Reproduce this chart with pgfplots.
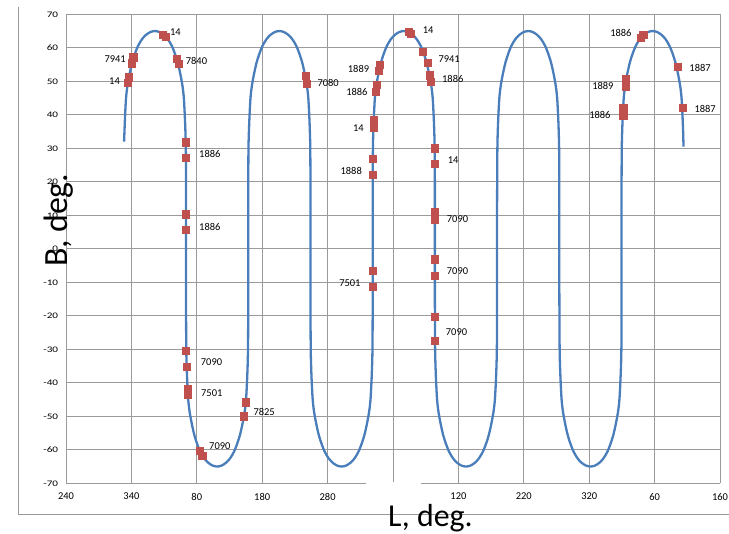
\documentclass[border=0pt]{standalone}
\usepackage{pgfplots}
\pgfplotsset{compat=1.18}
\usepackage{fontspec}
\setmainfont{Carlito}
\definecolor{curve}{HTML}{4A7EBB}
\definecolor{mk}{HTML}{C0504D}
\definecolor{gridc}{HTML}{9A9A9A}
\newcommand{\sx}[1]{\scalebox{1.32}[1]{#1}}

\begin{document}
\begin{tikzpicture}
\path[use as bounding box] (-66bp,-50.7bp) rectangle (663bp,483.3bp);
% chart frame
\draw[gridc, line width=0.9bp] (-48bp,476.3bp) -- (-48bp,-30.7bp) -- (700bp,-30.7bp);

\begin{axis}[
    at={(0,0)}, anchor=south west,
    scale only axis,
    width=654bp, height=469bp,
    xmin=240, xmax=1240,
    ymin=-70, ymax=70,
    xtick={240,340,...,1240},
    xticklabels={240,340,80,180,280,{},120,220,320,60,160},
    ytick={-70,-60,...,70},
    yticklabels={\sx{-70},\sx{-60},\sx{-50},\sx{-40},\sx{-30},\sx{-20},\sx{-10},\sx{0},\sx{10},\sx{20},\sx{30},\sx{40},\sx{50},\sx{60},\sx{70}},
    xticklabel style={font=\fontsize{10.5}{12}\selectfont, inner sep=0pt, anchor=north, yshift=-9.5bp},
    yticklabel style={font=\fontsize{8.5}{10}\selectfont, inner sep=0pt, anchor=east, xshift=-7.7bp},
    major tick length=0pt,
    axis line style={draw=none},
    grid=major,
    grid style={gridc, line width=0.9bp},
    clip=false,
]
% trajectory
\addplot[curve, line width=2.3bp, smooth, tension=0.5] coordinates {
 (328.8,32) (329.4,35) (330.4,40) (331.8,45) (333.8,48.5) (337,52) (341,55.5) (345,58) (350,60.5) (356,62.5) (362,63.8) (369,64.7) (376,65) (383,64.7) (390,63.8) (396,62.5) (402,60.5) (407,58) (411,55.5) (415,52) (418.2,48.5) (420.2,45) (421.6,40) (422.6,35) (423.2,30) (423.5,20) (423.5,10) (423.5,0) (423.5,-10)
 (423.6,-20) (423.9,-30) (424.5,-35) (425.5,-40) (426.9,-45) (428.9,-48.5) (432.1,-52) (436.1,-55.5) (440.1,-58) (445.1,-60.5) (451.1,-62.5) (457.1,-63.8) (464.1,-64.7) (471.1,-65) (478.1,-64.7) (485.1,-63.8) (491.1,-62.5) (497.1,-60.5) (502.1,-58) (506.1,-55.5) (510.1,-52) (513.3,-48.5) (515.3,-45) (516.7,-40) (517.7,-35) (518.3,-30) (518.6,-20) (518.6,-10) (518.6,0) (518.6,10)
 (518.7,20) (519,30) (519.7,35) (520.7,40) (522.1,45) (524.1,48.5) (527.3,52) (531.3,55.5) (535.3,58) (540.3,60.5) (546.3,62.5) (552.3,63.8) (559.3,64.7) (566.3,65) (573.3,64.7) (580.3,63.8) (586.3,62.5) (592.3,60.5) (597.3,58) (601.3,55.5) (605.3,52) (608.5,48.5) (610.5,45) (611.9,40) (612.9,35) (613.5,30) (613.8,20) (613.8,10) (613.8,0) (613.8,-10)
 (613.9,-20) (614.2,-30) (614.8,-35) (615.8,-40) (617.2,-45) (619.2,-48.5) (622.4,-52) (626.4,-55.5) (630.4,-58) (635.4,-60.5) (641.4,-62.5) (647.4,-63.8) (654.4,-64.7) (661.4,-65) (668.4,-64.7) (675.4,-63.8) (681.4,-62.5) (687.4,-60.5) (692.4,-58) (696.4,-55.5) (700.4,-52) (703.6,-48.5) (705.6,-45) (707,-40) (708,-35) (708.6,-30) (708.9,-20) (708.9,-10) (708.9,0) (708.9,10)
 (709,20) (709.3,30) (709.9,35) (710.9,40) (712.3,45) (714.3,48.5) (717.5,52) (721.5,55.5) (725.5,58) (730.5,60.5) (736.5,62.5) (742.5,63.8) (749.5,64.7) (756.5,65) (763.5,64.7) (770.5,63.8) (776.5,62.5) (782.5,60.5) (787.5,58) (791.5,55.5) (795.5,52) (798.7,48.5) (800.7,45) (802.1,40) (803.1,35) (803.7,30) (804,20) (804,10) (804,0) (804,-10)
 (804.1,-20) (804.4,-30) (805,-35) (806,-40) (807.4,-45) (809.4,-48.5) (812.6,-52) (816.6,-55.5) (820.6,-58) (825.6,-60.5) (831.6,-62.5) (837.6,-63.8) (844.6,-64.7) (851.6,-65) (858.6,-64.7) (865.6,-63.8) (871.6,-62.5) (877.6,-60.5) (882.6,-58) (886.6,-55.5) (890.6,-52) (893.8,-48.5) (895.8,-45) (897.2,-40) (898.2,-35) (898.8,-30) (899.1,-20) (899.1,-10) (899.1,0) (899.1,10)
 (899.3,20) (899.6,30) (900.2,35) (901.2,40) (902.6,45) (904.6,48.5) (907.8,52) (911.8,55.5) (915.8,58) (920.8,60.5) (926.8,62.5) (932.8,63.8) (939.8,64.7) (946.8,65) (953.8,64.7) (960.8,63.8) (966.8,62.5) (972.8,60.5) (977.8,58) (981.8,55.5) (985.8,52) (989,48.5) (991,45) (992.4,40) (993.4,35) (994,30) (994.3,20) (994.3,10) (994.3,0) (994.3,-10)
 (994.5,-20) (994.8,-30) (995.4,-35) (996.4,-40) (997.8,-45) (999.8,-48.5) (1003,-52) (1007,-55.5) (1011,-58) (1016,-60.5) (1022,-62.5) (1028,-63.8) (1035,-64.7) (1042,-65) (1049,-64.7) (1056,-63.8) (1062,-62.5) (1068,-60.5) (1073,-58) (1077,-55.5) (1081,-52) (1084.2,-48.5) (1086.2,-45) (1087.6,-40) (1088.6,-35) (1089.2,-30) (1089.5,-20) (1089.5,-10) (1089.5,0) (1089.5,10)
 (1089.5,20) (1089.8,30) (1090.4,35) (1091.4,40) (1092.8,45) (1094.8,48.5) (1098,52) (1102,55.5) (1106,58) (1111,60.5) (1117,62.5) (1123,63.8) (1130,64.7) (1137,65) (1144,64.7) (1151,63.8) (1157,62.5) (1163,60.5) (1168,58) (1172,55.5) (1176,52) (1179.2,48.5) (1181.2,45) (1182.6,40) (1183.6,35) (1184.2,30.5)
};
% observations
\addplot[only marks, mark=square*, mark size=3.6bp, mark options={fill=mk, draw=mk}] coordinates {
 (335.3,51.2) (334.3,49.6) (342.9,57.2) (340.4,55.4) (388.3,64.0) (392.4,63.4)
 (409.0,56.7) (412.2,55.3) (423.3,31.8) (423.3,27.3) (423.4,10.3) (423.4,5.7)
 (423.4,-30.5) (424.5,-35.2) (425.9,-41.9) (426.4,-43.6) (444.9,-60.3) (448.4,-61.7)
 (511.5,-50.0) (514.8,-45.8)
 (606.0,51.6) (607.6,49.4)
 (720.1,54.9) (718.1,53.1) (715.1,48.9) (714.0,46.9) (710.5,38.4) (710.0,36.2)
 (708.9,26.9) (708.9,22.0) (709.0,-6.5) (709.0,-11.4)
 (763.4,64.7) (767.5,64.3) (785.9,58.8) (792.5,55.6) (795.7,51.8) (797.6,49.9)
 (804.0,30.0) (804.0,25.4) (804.0,10.9) (804.0,8.8) (804.0,-3.1) (804.0,-8.1)
 (804.0,-20.3) (804.0,-27.4)
 (1118.7,63.1) (1122.7,63.9) (1096.3,50.6) (1095.2,48.4) (1092.0,42.2) (1092.0,39.9)
 (1174.7,54.3) (1182.4,42.1)
};
% labels
\tikzset{lb/.style={font=\fontsize{10.5}{12}\selectfont, inner sep=0pt}}
\node[lb, anchor=east] at (axis cs:331.7,56.6) {7941};
\node[lb, anchor=east] at (axis cs:322.6,50.0) {14};
\node[lb, anchor=west] at (axis cs:399.0,64.8) {14};
\node[lb, anchor=west] at (axis cs:423.0,56.1) {7840};
\node[lb, anchor=west] at (axis cs:443.4,28.4) {1886};
\node[lb, anchor=west] at (axis cs:443.4,6.6) {1886};
\node[lb, anchor=west] at (axis cs:446.0,-33.8) {7090};
\node[lb, anchor=west] at (axis cs:446.4,-43.1) {7501};
\node[lb, anchor=west] at (axis cs:458.7,-58.9) {7090};
\node[lb, anchor=west] at (axis cs:526.4,-48.6) {7825};
\node[lb, anchor=west] at (axis cs:624.3,49.5) {7080};
\node[lb, anchor=east] at (axis cs:703.8,53.6) {1889};
\node[lb, anchor=east] at (axis cs:701.3,46.9) {1886};
\node[lb, anchor=east] at (axis cs:695.6,36.1) {14};
\node[lb, anchor=east] at (axis cs:692.6,23.3) {1888};
\node[lb, anchor=east] at (axis cs:690.6,-10.4) {7501};
\node[lb, anchor=west] at (axis cs:785.4,65.3) {14};
\node[lb, anchor=west] at (axis cs:809.3,56.6) {7941};
\node[lb, anchor=west] at (axis cs:814.9,50.7) {1886};
\node[lb, anchor=west] at (axis cs:823.6,26.5) {14};
\node[lb, anchor=west] at (axis cs:822.1,8.8) {7090};
\node[lb, anchor=west] at (axis cs:822.1,-6.8) {7090};
\node[lb, anchor=west] at (axis cs:820.6,-25.0) {7090};
\node[lb, anchor=east] at (axis cs:1105.0,64.3) {1886};
\node[lb, anchor=east] at (axis cs:1077.4,48.7) {1889};
\node[lb, anchor=east] at (axis cs:1072.9,39.9) {1886};
\node[lb, anchor=west] at (axis cs:1193.0,54.1) {1887};
\node[lb, anchor=west] at (axis cs:1200.7,41.8) {1887};
\end{axis}

% gap in the bottom axis line
\fill[white] (300bp,0.9bp) rectangle (355bp,-20bp);
% axis titles
\node[font=\fontsize{32}{38}\selectfont, inner sep=0pt, anchor=base west] at (322bp,-43bp) {L, deg.};
\node[font=\fontsize{34}{40}\selectfont, inner sep=0pt, anchor=base west, rotate=90] at (1bp,216.3bp) {B, deg.};
\end{tikzpicture}
\end{document}
